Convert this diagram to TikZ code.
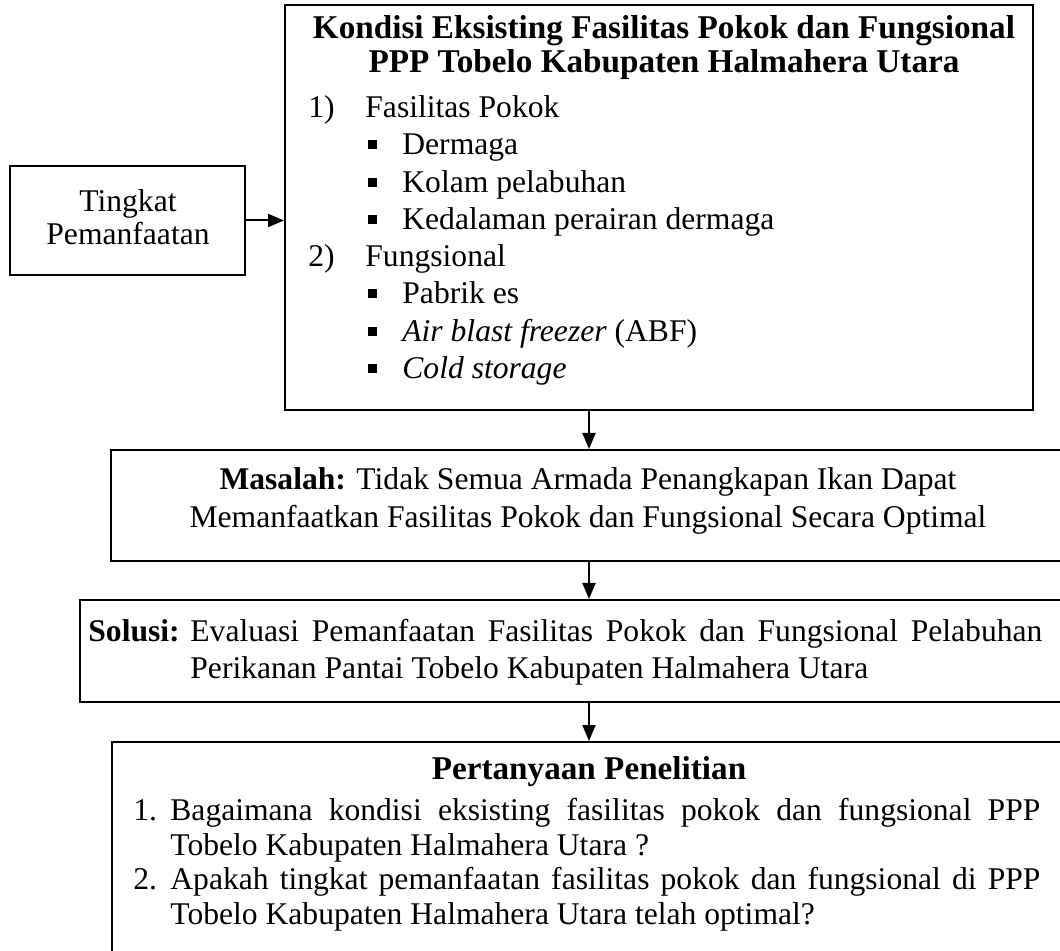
\documentclass[tikz,border=0pt]{standalone}
\usepackage{fontspec}
\setmainfont{Liberation Serif}
\usetikzlibrary{arrows.meta}
\newcommand{\kotak}{\rule[3.2pt]{4.5pt}{4.5pt}\hspace{12.5pt}}

\begin{document}
\begin{tikzpicture}[x=0.5pt, y=-0.5pt]

  \tikzstyle{box} = [draw, line width=1pt, inner sep=0pt]
  \tikzstyle{txt} = [inner sep=0pt, anchor=base west, font=\fontsize{15.8pt}{19pt}\selectfont]
  \tikzstyle{mid} = [txt, anchor=base]
  \tikzstyle{head} = [mid, font=\fontsize{16.6pt}{19pt}\selectfont\bfseries]
  \tikzstyle{arr} = [line width=1pt, -{Triangle[length=8pt, width=6.5pt]}]

    \useasboundingbox (0,0) rectangle (1060,951);
    \clip (0,0) rectangle (1060,951);

    \node[box, minimum width=117.5pt, minimum height=54.5pt] (tingkat) at (127.5,220.5) {};
    \node[box, minimum width=374pt, minimum height=202.5pt] (kondisi) at (659,207.5) {};
    \node[box, minimum width=478pt, minimum height=55.5pt] (masalah) at (589,505.5) {};
    \node[box, minimum width=509pt, minimum height=51pt] (solusi) at (589,651) {};
    \node[box, minimum width=477pt, minimum height=129pt] (tanya) at (589,871) {};

    \draw[arr] (tingkat.east) -- (tingkat.east -| kondisi.west);
    \draw[arr] (kondisi.south -| masalah.north) -- (masalah.north);
    \draw[arr] (masalah.south) -- (solusi.north);
    \draw[arr] (solusi.south) -- (tanya.north);

    \node[mid] (tA) at (128,212) {Tingkat};
    \node[mid] (tB) at (128,245) {Pemanfaatan};

    \node[head] (kA) at (664,39) {Kondisi Eksisting Fasilitas Pokok dan Fungsional};
    \node[head] (kB) at (664,73) {PPP Tobelo Kabupaten Halmahera Utara};

    \node[txt] (n1) at (308,118) {1)};
    \node[txt] (f1) at (365,118) {Fasilitas Pokok};
    \node[txt] (p1) at (368,155) {\kotak Dermaga};
    \node[txt] (p2) at (368,193) {\kotak Kolam pelabuhan};
    \node[txt] (p3) at (368,230) {\kotak Kedalaman perairan dermaga};
    \node[txt] (n2) at (308,267) {2)};
    \node[txt] (f2) at (365,267) {Fungsional};
    \node[txt] (q1) at (368,304) {\kotak Pabrik es};
    \node[txt] (q2) at (368,342) {\kotak\textit{Air blast freezer} (ABF)};
    \node[txt] (q3) at (368,379) {\kotak\textit{Cold storage}};

    \node[mid] (mA) at (588,490) {\textbf{Masalah:} Tidak Semua Armada Penangkapan Ikan Dapat};
    \node[mid] (mB) at (588,528) {Memanfaatkan Fasilitas Pokok dan Fungsional Secara Optimal};

    \node[txt] (sL) at (88,641) {\textbf{Solusi:}};
    \node[txt] (sA) at (190,641) {\makebox[426pt][s]{Evaluasi Pemanfaatan Fasilitas Pokok dan Fungsional Pelabuhan}};
    \node[txt] (sB) at (190,678) {Perikanan Pantai Tobelo Kabupaten Halmahera Utara};

    \node[head] (pJ) at (589,779) {Pertanyaan Penelitian};
    \node[txt] (m1) at (133,820) {1.};
    \node[txt] (pA) at (170,820) {\makebox[435pt][s]{Bagaimana kondisi eksisting fasilitas pokok dan fungsional PPP}};
    \node[txt] (pB) at (170,855) {Tobelo Kabupaten Halmahera Utara ?};
    \node[txt] (m2) at (133,889) {2.};
    \node[txt] (pC) at (170,889) {\makebox[435pt][s]{Apakah tingkat pemanfaatan fasilitas pokok dan fungsional di PPP}};
    \node[txt] (pD) at (170,924) {Tobelo Kabupaten Halmahera Utara telah optimal?};
\end{tikzpicture}
\end{document}
